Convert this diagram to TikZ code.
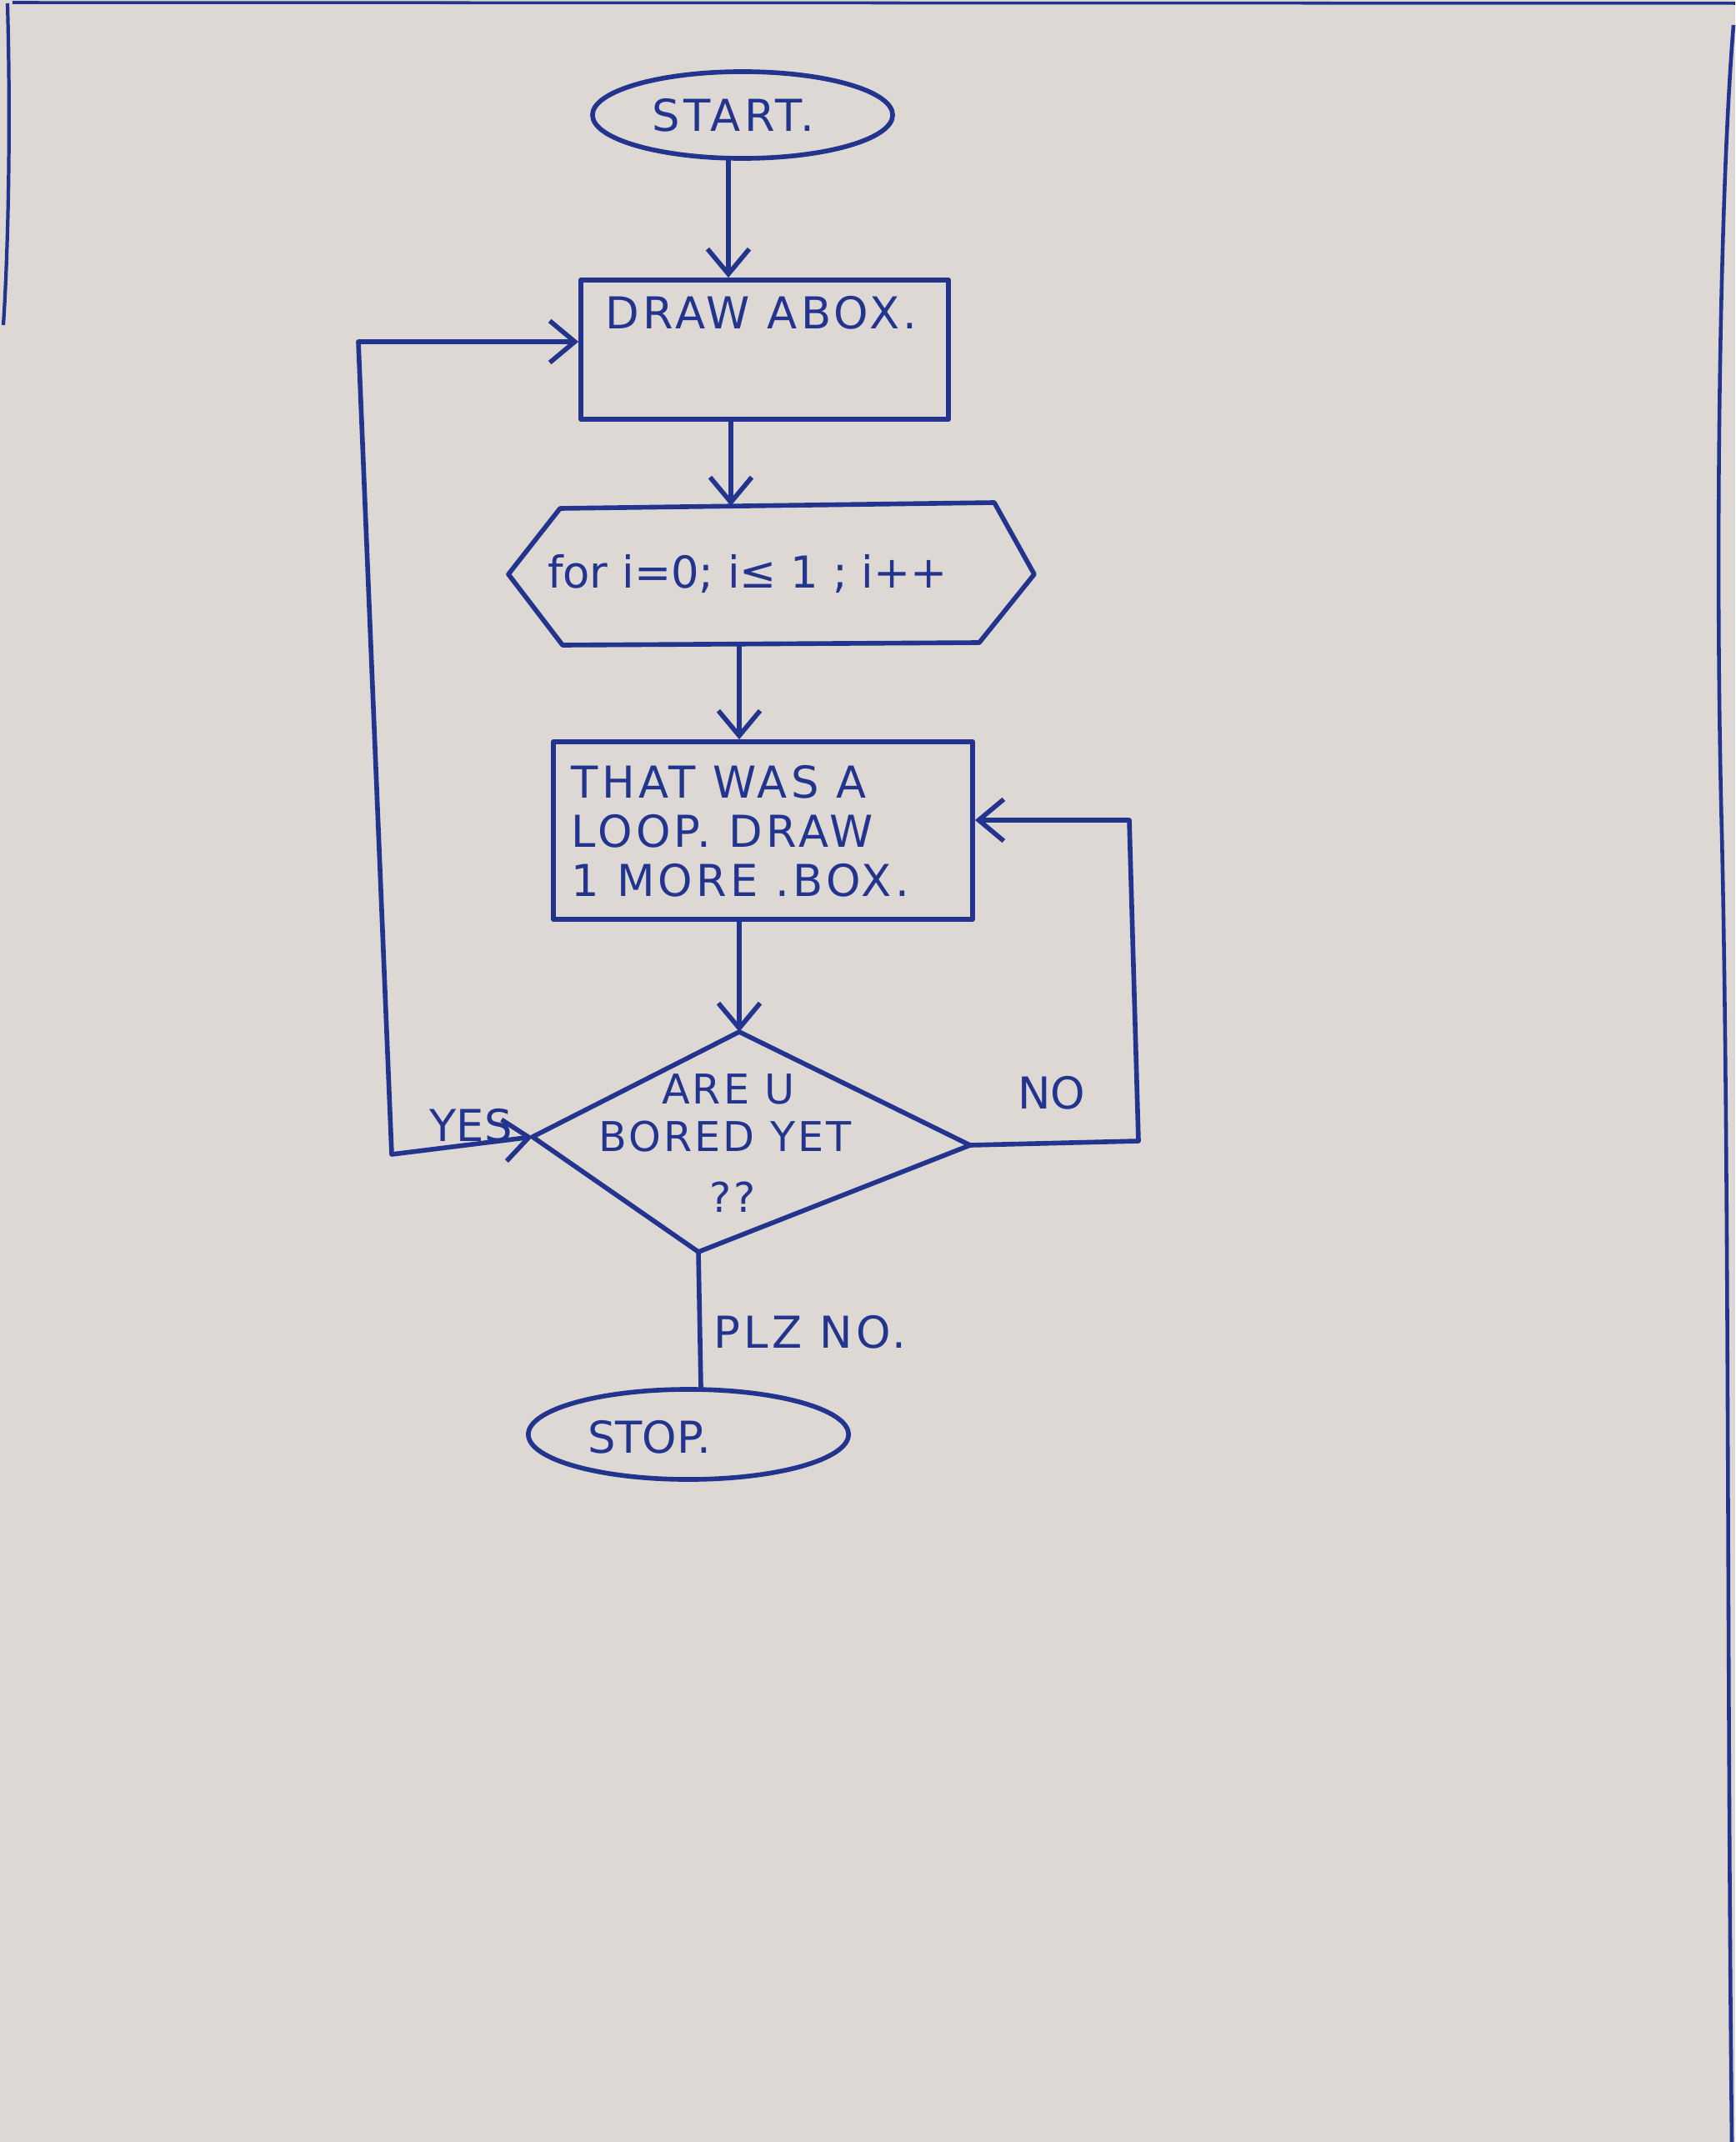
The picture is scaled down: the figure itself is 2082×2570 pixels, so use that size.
\documentclass[tikz,border=0pt]{standalone}
\usepackage{fontspec}
\setmainfont{DejaVu Sans}
\usetikzlibrary{arrows.meta,shapes.geometric}
\definecolor{paper}{RGB}{221,216,212}
\definecolor{ink}{RGB}{34,52,142}
\tikzset{
  pen/.style={draw=ink, line width=1.6pt, line join=round, line cap=round},
  term/.style={pen, ellipse, inner sep=0pt},
  boxnode/.style={pen, rectangle, inner sep=0pt},
  arr/.style={-{Straight Barb[length=3mm,width=5mm,line width=1.6pt]}},
  twoarr/.style={{Straight Barb[length=3mm,width=5mm,line width=1.6pt]}-{Straight Barb[length=3mm,width=5mm,line width=1.6pt]}},
  plaintxt/.style={text=ink, inner sep=0pt, font=\fontsize{15}{17}\selectfont},
  txt/.style={text=ink, inner sep=0pt, font=\fontsize{15}{17}\selectfont\addfontfeature{LetterSpace=8}},
  smalltxt/.style={text=ink, inner sep=0pt, font=\fontsize{14}{16}\selectfont\addfontfeature{LetterSpace=6}}
}
\begin{document}
\begin{tikzpicture}[x=0.01cm,y=-0.01cm]
\fill[paper] (0,0) rectangle (2082,2570);
\useasboundingbox (0,0) rectangle (2082,2570);
% paper edge marks
\draw[draw=ink, line width=1pt] (15,3) -- (2082,4);
\draw[draw=ink, line width=1.2pt] (9,4) .. controls (13,150) and (10,300) .. (4,390);
\draw[draw=ink, line width=1.3pt] (2080,30) .. controls (2062,250) and (2058,700) .. (2066,1000) .. controls (2075,1400) and (2072,2000) .. (2078,2570);

% start
\node[term, minimum width=3.6cm, minimum height=1.04cm] (start) at (891,138) {};
\node[txt] (starttxt) at (880,138) {START.};

% box 1
\node[boxnode, minimum width=4.41cm, minimum height=1.67cm] (box1) at (917.5,419.5) {};
\node[txt, anchor=west] (box1txt) at (726,375) {DRAW ABOX.};

% hexagon (loop)
\coordinate (hL) at (610,689);
\coordinate (hTL) at (672,610);
\coordinate (hTR) at (1193,603);
\coordinate (hR) at (1241,689);
\coordinate (hBR) at (1175,771);
\coordinate (hBL) at (675,774);
\draw[pen] (hL) -- (hTL) -- (hTR) -- (hR) -- (hBR) -- (hBL) -- cycle;
\coordinate (hexT) at (877,607);
\coordinate (hexB) at (887,773);
\node[plaintxt] (hextxt) at (897,689) {for i=0; i≤ 1 ; i++};

% box 2
\node[boxnode, minimum width=5.03cm, minimum height=2.13cm] (box2) at (915.5,996.5) {};
\node[txt, anchor=base west] (b2l1) at (685,957) {THAT WAS A};
\node[txt, anchor=base west] (b2l2) at (685,1016) {LOOP. DRAW};
\node[txt, anchor=base west] (b2l3) at (685,1075) {1 MORE .BOX.};

% diamond
\coordinate (dT) at (887,1238);
\coordinate (dR) at (1164,1374);
\coordinate (dB) at (838,1502);
\coordinate (dL) at (639,1364);
\draw[pen] (dT) -- (dR) -- (dB) -- (dL) -- cycle;
\node[smalltxt] (q1) at (874,1307) {ARE U};
\node[smalltxt] (q2) at (870,1364) {BORED YET};
\node[smalltxt] (q3) at (879,1436) {??};

% stop
\node[term, minimum width=3.84cm, minimum height=1.08cm] (stop) at (826,1721) {};
\node[plaintxt] (stoptxt) at (779,1724) {STOP.};

% connectors
\draw[pen, arr] ([xshift=-1.7mm]start.south) -- ([xshift=-4.35mm]box1.north);
\draw[pen, arr] ([xshift=-4.05mm]box1.south) -- (hexT);
\draw[pen, arr] (hexB) -- ([xshift=-2.85mm]box2.north);
\draw[pen, arr] ([xshift=-2.85mm]box2.south) -- (dT);
\coordinate (noA) at (1366,1369);
\coordinate (noB) at (1355,984);
\draw[pen, arr] (dR) -- (noA) -- (noB) -- ([yshift=1.25mm]box2.east);
\coordinate (yesA) at (470,1385);
\coordinate (yesB) at (430,410);
\draw[pen, twoarr] (dL) -- (yesA) -- (yesB) -- ([yshift=0.95mm]box1.west);
\draw[pen] (dB) -- ([xshift=1.5mm]stop.north);

% labels
\node[plaintxt] (yeslbl) at (565,1350) {YES};
\node[plaintxt] (nolbl) at (1262,1311) {NO};
\node[txt, anchor=west] (plzlbl) at (856,1598) {PLZ NO.};
\end{tikzpicture}
\end{document}
